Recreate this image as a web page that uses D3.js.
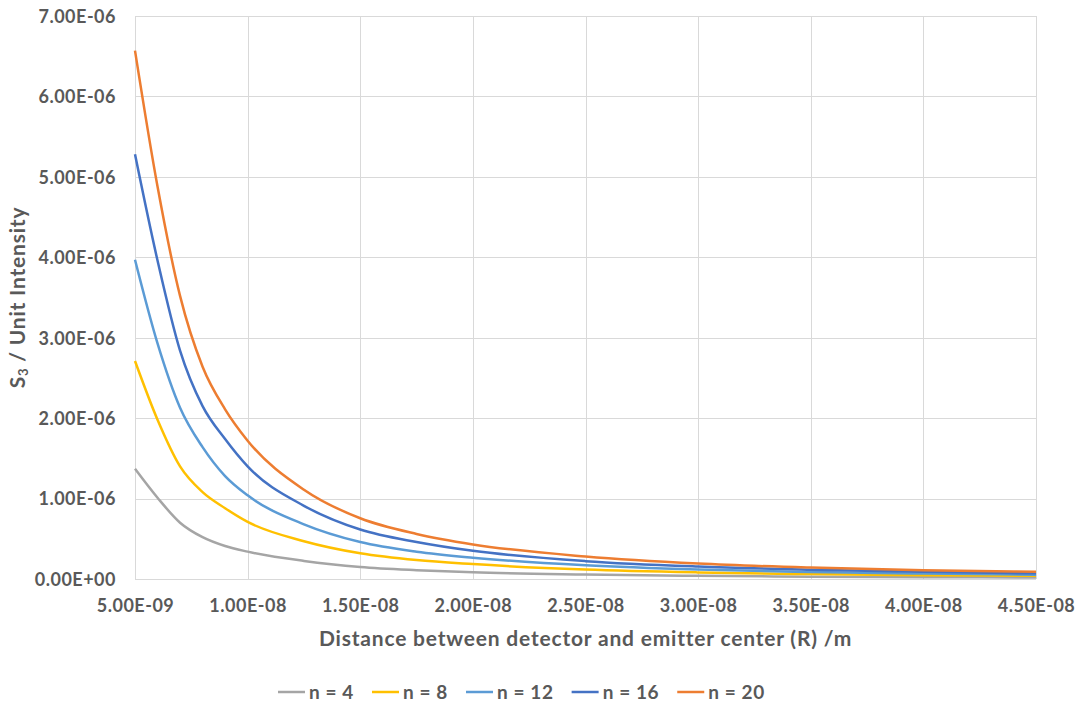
<!DOCTYPE html>
<html>
<head>
<meta charset="utf-8">
<script src="https://cdn.jsdelivr.net/npm/d3@7"></script>
<style>
  body { margin: 0; background: #fff; }
  svg text { font-family: Lato, "Open Sans", sans-serif; fill: #595959; font-weight: bold; }
</style>
</head>
<body>
<div id="chart"></div>
<script>
// distance R (m) where values were read
const distances = [5e-9, 6e-9, 7e-9, 8e-9, 9e-9, 1e-8, 1.25e-8, 1.5e-8, 1.75e-8, 2e-8, 2.5e-8, 3e-8, 3.5e-8, 4e-8, 4.5e-8];

// S3 / unit intensity for each n
const n4 = [1.37e-6, 1.01e-6, 0.70e-6, 0.52e-6, 0.41e-6, 0.34e-6, 0.225e-6, 0.15e-6, 0.11e-6, 0.083e-6, 0.056e-6, 0.039e-6, 0.029e-6, 0.023e-6, 0.019e-6];
const n8 = [2.71e-6, 1.98e-6, 1.40e-6, 1.08e-6, 0.88e-6, 0.71e-6, 0.47e-6, 0.32e-6, 0.235e-6, 0.185e-6, 0.118e-6, 0.082e-6, 0.061e-6, 0.048e-6, 0.04e-6];
const n12 = [3.97e-6, 2.93e-6, 2.13e-6, 1.64e-6, 1.28e-6, 1.04e-6, 0.68e-6, 0.46e-6, 0.34e-6, 0.265e-6, 0.17e-6, 0.117e-6, 0.087e-6, 0.067e-6, 0.054e-6];
const n16 = [5.28e-6, 3.96e-6, 2.84e-6, 2.15e-6, 1.74e-6, 1.40e-6, 0.91e-6, 0.615e-6, 0.46e-6, 0.35e-6, 0.222e-6, 0.155e-6, 0.116e-6, 0.089e-6, 0.07e-6];
const n20 = [6.57e-6, 4.88e-6, 3.52e-6, 2.64e-6, 2.11e-6, 1.72e-6, 1.11e-6, 0.755e-6, 0.56e-6, 0.43e-6, 0.28e-6, 0.192e-6, 0.142e-6, 0.11e-6, 0.09e-6];

const seriesNames = ["n = 4", "n = 8", "n = 12", "n = 16", "n = 20"];
const seriesColors = ["#A5A5A5", "#FFC000", "#5B9BD5", "#4472C4", "#ED7D31"];
const seriesValues = [n4, n8, n12, n16, n20];

const xTicks = [5e-9, 1e-8, 1.5e-8, 2e-8, 2.5e-8, 3e-8, 3.5e-8, 4e-8, 4.5e-8];
const yTicks = [0, 1e-6, 2e-6, 3e-6, 4e-6, 5e-6, 6e-6, 7e-6];

const width = 1081, height = 704;
const margin = { left: 135, right: 45, top: 16, bottom: 125 };

// Excel style 0.00E+00
function sci(v) {
  if (v === 0) return "0.00E+00";
  const e = Math.floor(Math.log10(Math.abs(v)) + 1e-9);
  const m = v / Math.pow(10, e);
  const sign = e < 0 ? "-" : "+";
  return m.toFixed(2) + "E" + sign + String(Math.abs(e)).padStart(2, "0");
}

const svg = d3.select("#chart").append("svg")
  .attr("width", width)
  .attr("height", height);

const xScale = d3.scaleLinear()
  .domain([5e-9, 4.5e-8])
  .range([margin.left, width - margin.right]);

const yScale = d3.scaleLinear()
  .domain([0, 7e-6])
  .range([height - margin.bottom, margin.top]);

// gridlines
const grid = svg.append("g");
grid.selectAll("line.h")
  .data(yTicks)
  .join("line")
  .attr("x1", margin.left)
  .attr("x2", width - margin.right)
  .attr("y1", d => Math.round(yScale(d)) + 0.5)
  .attr("y2", d => Math.round(yScale(d)) + 0.5)
  .attr("stroke", "#D9D9D9")
  .attr("stroke-width", 1);
grid.selectAll("line.v")
  .data(xTicks)
  .join("line")
  .attr("x1", d => Math.round(xScale(d)) + 0.5)
  .attr("x2", d => Math.round(xScale(d)) + 0.5)
  .attr("y1", margin.top)
  .attr("y2", height - margin.bottom)
  .attr("stroke", "#D9D9D9")
  .attr("stroke-width", 1);

// Y axis
const yAxis = svg.append("g")
  .attr("transform", `translate(${margin.left - 19},0)`)
  .call(d3.axisLeft(yScale).tickValues(yTicks).tickFormat(sci).tickSize(0));
yAxis.select(".domain").remove();
yAxis.selectAll("text")
  .attr("x", 0)
  .attr("dy", "0.35em")
  .style("font-size", "18px")
  .style("letter-spacing", "0.5px");

// X axis
const xAxis = svg.append("g")
  .attr("transform", `translate(0,${height - margin.bottom})`)
  .call(d3.axisBottom(xScale).tickValues(xTicks).tickFormat(sci).tickSize(0));
xAxis.select(".domain").remove();
xAxis.selectAll("text")
  .attr("y", 27)
  .attr("dy", "0.35em")
  .style("font-size", "18px")
  .style("letter-spacing", "0.5px");

// axis titles
svg.append("text")
  .attr("x", (margin.left + width - margin.right) / 2)
  .attr("y", 646)
  .attr("text-anchor", "middle")
  .style("font-size", "21px")
  .style("letter-spacing", "0.8px")
  .text("Distance between detector and emitter center (R) /m");

const yTitle = svg.append("text")
  .attr("transform", `translate(25,${(margin.top + height - margin.bottom) / 2}) rotate(-90)`)
  .attr("text-anchor", "middle")
  .style("font-size", "21px")
  .style("letter-spacing", "0.8px");
yTitle.append("tspan").text("S");
yTitle.append("tspan").attr("baseline-shift", "-25%").style("font-size", "13px").text("3");
yTitle.append("tspan").text(" / Unit Intensity");

// lines
const line = d3.line()
  .x((d, i) => xScale(distances[i]))
  .y(d => yScale(d))
  .curve(d3.curveMonotoneX);

svg.append("g")
  .selectAll("path")
  .data(seriesValues)
  .join("path")
  .attr("d", d => line(d))
  .attr("fill", "none")
  .attr("stroke", (d, i) => seriesColors[i])
  .attr("stroke-width", 2.5)
  .attr("stroke-linejoin", "round");

// legend
const legend = svg.append("g").attr("transform", "translate(278,692)");
let lx = 0;
seriesNames.forEach((name, i) => {
  const item = legend.append("g").attr("transform", `translate(${lx},0)`);
  item.append("line")
    .attr("x1", 0).attr("x2", 27)
    .attr("y1", 0).attr("y2", 0)
    .attr("stroke", seriesColors[i])
    .attr("stroke-width", 2.5);
  const t = item.append("text")
    .attr("x", 31)
    .attr("dy", "0.35em")
    .style("font-size", "19px")
    .style("letter-spacing", "0.6px")
    .text(name);
  lx += 31 + t.node().getComputedTextLength() + 18;
});
</script>
</body>
</html>
